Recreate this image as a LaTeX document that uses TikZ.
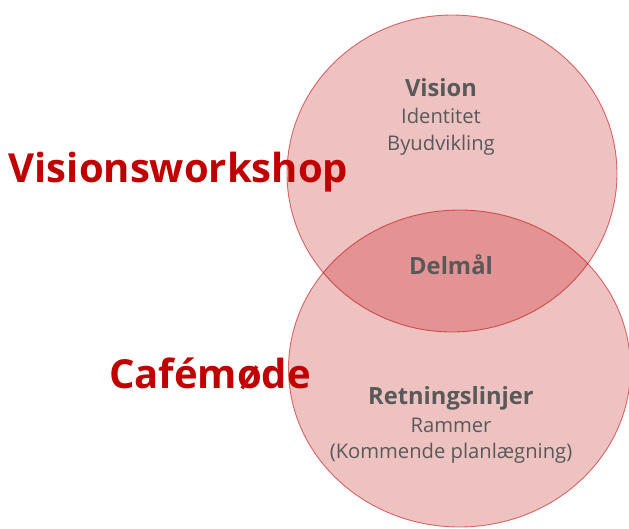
\documentclass[tikz,border=0pt]{standalone}
\usepackage{fontspec}
\setmainfont{Open Sans}
\usetikzlibrary{shapes.geometric}
\definecolor{redtxt}{HTML}{C00000}
\definecolor{graytxt}{HTML}{595959}
\definecolor{venn}{HTML}{C00000}
\begin{document}
\begin{tikzpicture}[x=1pt,y=-1pt,
  vennset/.style={ellipse, inner sep=0pt, fill=venn, fill opacity=0.24, draw=venn, draw opacity=0.55, line width=0.9pt},
  biglabel/.style={anchor=base, inner sep=0pt, text=redtxt, font=\fontsize{40}{42}\selectfont\bfseries},
  headtxt/.style={anchor=base, inner sep=0pt, text=graytxt, font=\fontsize{23.7}{26}\selectfont\bfseries},
  bodytxt/.style={anchor=base, inner sep=0pt, text=graytxt, font=\fontsize{20.2}{22}\selectfont}]
\useasboundingbox (0,0) rectangle (629,528);
\clip (0,0) rectangle (629,528);
\fill[white] (0,0) rectangle (629,528);
\node[vennset, minimum width=330pt, minimum height=317pt] (top) at (452,173.5) {};
\node[vennset, minimum width=342pt, minimum height=317pt] (bot) at (459.5,368.5) {};
\node[biglabel] (ws) at (178.5,182) {Visionsworkshop};
\node[biglabel] (cafe) at (210,388) {Cafémøde};
\node[headtxt] (vision) at (441,96) {Vision};
\node[bodytxt] (ident) at (441,123) {Identitet};
\node[bodytxt] (byud) at (441,150) {Byudvikling};
\node[headtxt] (delmaal) at (451,274) {Delmål};
\node[headtxt] (retn) at (451,404) {Retningslinjer};
\node[bodytxt] (ramm) at (451,432) {Rammer};
\node[bodytxt] (komm) at (451,458) {(Kommende planlægning)};
\end{tikzpicture}
\end{document}
